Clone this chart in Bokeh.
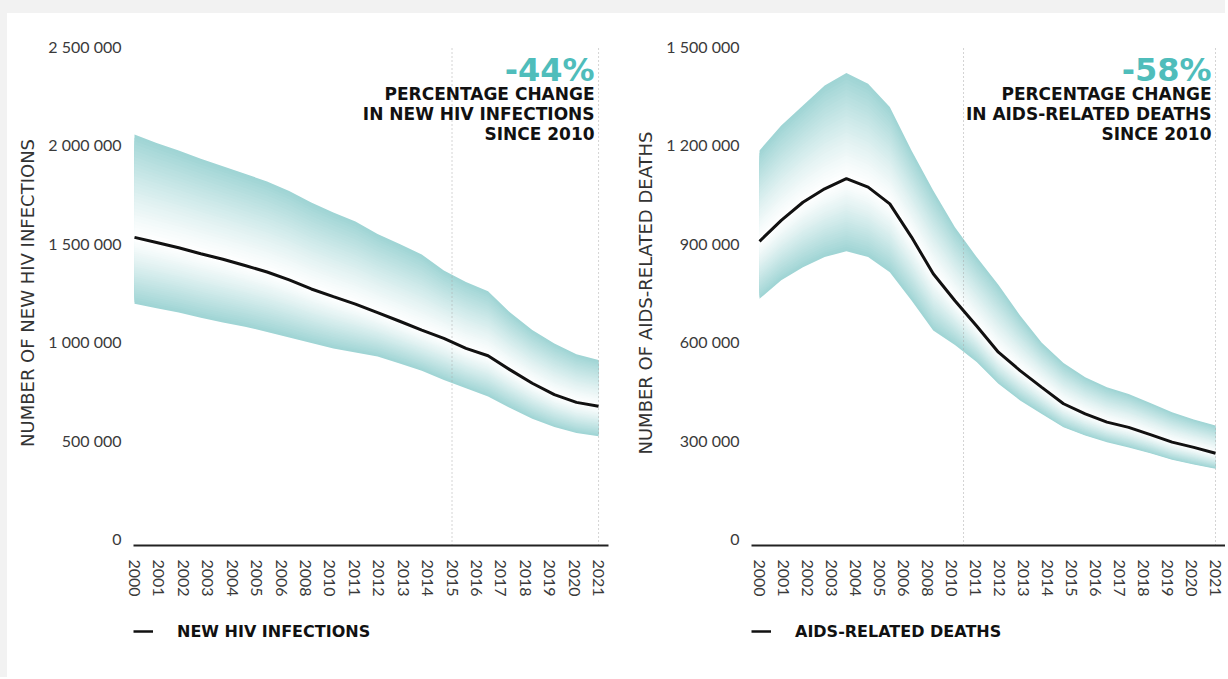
import numpy as np
from bokeh.plotting import figure
from bokeh.models import Range1d, LinearAxis, FixedTicker, Label, Legend, LegendItem, Spacer
from bokeh.layouts import row, column
from bokeh.embed import file_html
from bokeh.resources import INLINE

# ---------------- data ----------------
years = list(range(2000, 2022))
tick_labels = ["2000", "2001", "2002", "2003", "2004", "2005", "2006", "2008", "2010",
               "2011", "2012", "2013", "2014", "2015", "2016", "2017", "2018", "2019",
               "2020", "2021"]

hiv_mid = [1530000, 1504000, 1477000, 1447000, 1419000, 1387000, 1354000, 1314000,
           1268000, 1229000, 1191000, 1148000, 1104000, 1059000, 1017000, 966000,
           929000, 857000, 789000, 731000, 692000, 672000]
hiv_high = [2052000, 2010000, 1971000, 1930000, 1891000, 1853000, 1814000, 1766000,
            1707000, 1657000, 1611000, 1547000, 1496000, 1443000, 1362000, 1303000,
            1256000, 1148000, 1059000, 991000, 936000, 907000]
hiv_low = [1193000, 1170000, 1148000, 1122000, 1098000, 1076000, 1050000, 1022000,
           993000, 966000, 945000, 925000, 890000, 852000, 806000, 764000,
           722000, 663000, 609000, 567000, 537000, 520000]

death_mid = [906000, 970000, 1025000, 1066000, 1097000, 1071000, 1020000, 919000,
             807000, 725000, 648000, 568000, 512000, 461000, 411000, 380000,
             355000, 339000, 317000, 294000, 278000, 260000]
death_high = [1183000, 1259000, 1320000, 1381000, 1419000, 1386000, 1315000, 1183000,
              1061000, 949000, 858000, 774000, 680000, 597000, 535000, 492000,
              461000, 441000, 413000, 385000, 363000, 345000]
death_low = [731000, 787000, 827000, 858000, 876000, 858000, 812000, 726000,
             634000, 590000, 538000, 472000, 421000, 380000, 339000, 314000,
             294000, 278000, 260000, 240000, 226000, 213000]

hiv_ticks = [0, 500000, 1000000, 1500000, 2000000, 2500000]
death_ticks = [0, 300000, 600000, 900000, 1200000, 1500000]

# ---------------- style ----------------
TEAL = (158, 212, 212)
ACCENT = "#4fbdbb"
INK = "#111111"
GREY = "#3a3a3a"
PAGE_BG = "#f2f2f2"
H = 608
TOP = 27
FRAME_H = 505
LEG_H = 45


def hexcol(rgb):
    return "#%02x%02x%02x" % rgb


def band(p, x, mid, bound, n=32, power=1.2):
    mid = np.asarray(mid, float)
    bound = np.asarray(bound, float)
    for k in range(n, 0, -1):
        f = k / n
        g = ((k - 0.5) / n) ** power
        col = tuple(int(round(255 + (c - 255) * g)) for c in TEAL)
        p.varea(x=x, y1=mid, y2=mid + (bound - mid) * f, fill_color=hexcol(col))


def fmt(v):
    return f"{v:,}".replace(",", " ")


def make_chart(width, b_left, b_right, pad_l, pad_r, y_end_pad, y_start, ticks,
               mid, high, low, ylabel, legend_label, ref_pos, pct, lines, title_std):
    x0, x1 = years[0] - pad_l, years[-1] + pad_r
    y0, y1 = y_start, ticks[-1] + y_end_pad
    p = figure(width=width, height=H, x_range=Range1d(x0, x1), y_range=Range1d(y0, y1),
               output_backend="svg", toolbar_location=None, x_axis_location=None,
               y_axis_location="left", min_border_left=b_left, min_border_right=b_right,
               min_border_top=TOP, min_border_bottom=H - TOP - FRAME_H,
               outline_line_color=None, title=None)
    p.grid.visible = False
    p.background_fill_color = "white"
    p.border_fill_color = "white"

    # category-label axis mapped onto the year span
    nlab = len(tick_labels) - 1
    span = years[-1] - years[0]
    to_lab = lambda yr: (yr - years[0]) * nlab / span
    p.extra_x_ranges = {"lab": Range1d(to_lab(x0), to_lab(x1))}
    ax = LinearAxis(x_range_name="lab",
                    ticker=FixedTicker(ticks=list(range(len(tick_labels)))),
                    major_label_overrides={i: t for i, t in enumerate(tick_labels)})
    ax.major_label_orientation = "vertical"
    ax.major_tick_line_color = None
    ax.minor_tick_line_color = None
    ax.axis_line_color = "#222222"
    ax.axis_line_width = 2
    ax.major_label_standoff = 8
    ax.major_label_text_font = "Lato"
    ax.major_label_text_font_size = "16px"
    ax.major_label_text_color = GREY
    p.add_layout(ax, "below")

    ya = p.yaxis[0]
    ya.ticker = FixedTicker(ticks=ticks)
    ya.major_label_overrides = {t: fmt(t) for t in ticks}
    ya.axis_line_color = None
    ya.major_tick_line_color = None
    ya.minor_tick_line_color = None
    ya.major_label_standoff = 6
    ya.major_label_text_font = "Lato"
    ya.major_label_text_font_size = "16px"
    ya.major_label_text_color = GREY
    ya.axis_label = ylabel
    ya.axis_label_text_font = "DejaVu Sans"
    ya.axis_label_text_font_size = "18px"
    ya.axis_label_text_font_style = "normal"
    ya.axis_label_text_color = "#333333"
    ya.axis_label_standoff = title_std

    band(p, years, mid, high)
    band(p, years, mid, low)

    # dotted reference lines
    p.segment(x0=[ref_pos, nlab], y0=[y0, y0], x1=[ref_pos, nlab], y1=[ticks[-1], ticks[-1]],
              x_range_name="lab", line_color="#a8a8a8", line_width=1, line_dash="1 3")

    p.line(years, mid, line_color=INK, line_width=3)

    # annotation text (right-aligned near the last year)
    ppy = (p.width - b_left - b_right) / (x1 - x0)
    xr = years[-1] - 4 / ppy
    ppv = FRAME_H / (y1 - y0)
    top_px = lambda px: y1 - (px - 40) / ppv
    p.add_layout(Label(x=xr, y=top_px(69), text=pct, text_align="right",
                       text_baseline="middle", text_font="DejaVu Sans",
                       text_font_style="bold", text_font_size="32px", text_color=ACCENT))
    for i, t in enumerate(lines):
        p.add_layout(Label(x=xr, y=top_px(93 + 20 * i), text=t, text_align="right",
                           text_baseline="middle", text_font="DejaVu Sans",
                           text_font_style="bold", text_font_size="17px", text_color=INK))

    # legend strip below the chart (key line uses the series, kept out of view)
    lf = figure(width=width, height=LEG_H, x_range=Range1d(0, 1), y_range=Range1d(0, 1),
                output_backend="svg", toolbar_location=None, x_axis_location=None,
                y_axis_location=None, min_border_left=b_left, min_border_right=b_right,
                min_border_top=0, min_border_bottom=0, outline_line_color=None, title=None)
    lf.grid.visible = False
    key = lf.line(years, mid, line_color=INK, line_width=2.5)
    leg = Legend(items=[LegendItem(label=legend_label, renderers=[key])], location="top_left")
    leg.glyph_width = 20
    leg.glyph_height = 20
    leg.label_standoff = 24
    leg.padding = 0
    leg.margin = 0
    leg.border_line_color = None
    leg.background_fill_alpha = 0
    leg.label_text_font = "DejaVu Sans"
    leg.label_text_font_style = "bold"
    leg.label_text_font_size = "16px"
    leg.label_text_color = INK
    lf.add_layout(leg)
    return column(p, lf)


c1 = make_chart(612, 126, 11, 0.045, 0.45, 30000, -35000, hiv_ticks,
                hiv_mid, hiv_high, hiv_low, "NUMBER OF NEW HIV INFECTIONS",
                "NEW HIV INFECTIONS", tick_labels.index("2015"), "-44%",
                ["PERCENTAGE CHANGE", "IN NEW HIV INFECTIONS", "SINCE 2010"], 7)

c2 = make_chart(606, 132, 0, 0.37, 0.46, 18000, -21000, death_ticks,
                death_mid, death_high, death_low, "NUMBER OF AIDS-RELATED DEATHS",
                "AIDS-RELATED DEATHS",
                (tick_labels.index("2010") + tick_labels.index("2011")) / 2, "-58%",
                ["PERCENTAGE CHANGE", "IN AIDS-RELATED DEATHS", "SINCE 2010"], 7)

top_strip = Spacer(width=7 + 612 + 606, height=13, styles={"background-color": PAGE_BG})
left_strip = Spacer(width=7, height=664, styles={"background-color": PAGE_BG})
layout = column(top_strip, row(left_strip, c1, c2))
open("out.html", "w").write(file_html(layout, INLINE))
